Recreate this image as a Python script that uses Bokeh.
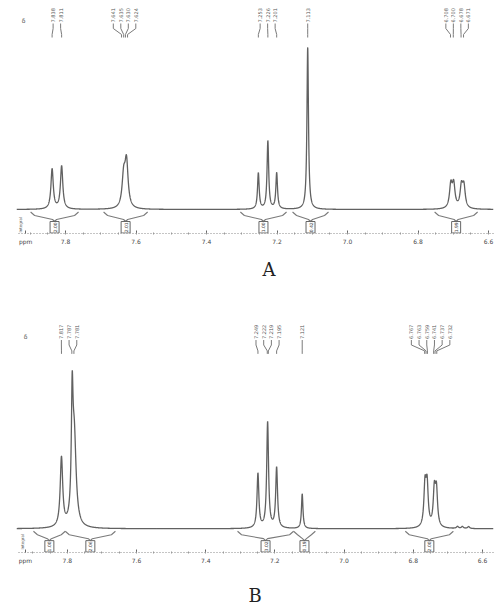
import numpy as np
from bokeh.plotting import figure
from bokeh.layouts import column
from bokeh.models import Range1d, FixedTicker, Label, Title
from bokeh.embed import file_html
from bokeh.resources import INLINE
from bokeh.core.properties import value

# ---------------- Panel A data ----------------
A_line_ppm = [7.838, 7.811, 7.635, 7.627, 7.253, 7.226, 7.201, 7.113, 6.707, 6.699, 6.677, 6.670]
A_line_height = [40, 43, 30, 45, 36, 68, 36, 162, 23, 23, 21, 21]
A_line_hwhm = [0.0040, 0.0040, 0.0054, 0.0054, 0.0028, 0.0028, 0.0028, 0.0026, 0.0045, 0.0045, 0.0045, 0.0045]
A_pick_ppm = [7.838, 7.811, 7.641, 7.635, 7.630, 7.624, 7.253, 7.226, 7.201, 7.113, 6.708, 6.700, 6.678, 6.671]
A_pick_group = [0, 0, 1, 1, 1, 1, 2, 2, 2, 3, 4, 4, 4, 4]
A_int_from = [7.899, 7.692, 7.304, 7.156, 6.753]
A_int_to = [7.763, 7.567, 7.173, 7.054, 6.631]
A_int_value = ["2.00", "2.01", "1.00", "0.42", "1.99"]
A_ticks = [7.8, 7.6, 7.4, 7.2, 7.0, 6.8, 6.6]
A_tick_labels = ["7.8", "7.6", "7.4", "7.2", "7.0", "6.8", "6.6"]

# ---------------- Panel B data ----------------
B_line_ppm = [7.817, 7.786, 7.780, 7.249, 7.221, 7.195, 7.121, 6.766, 6.760, 6.739, 6.733, 6.672, 6.658, 6.640]
B_line_height = [70, 110, 90, 55, 107, 61, 35, 41, 41, 36, 36, 2, 2, 2]
B_line_hwhm = [0.0043, 0.0029, 0.0064, 0.0032, 0.0032, 0.0032, 0.0026, 0.0038, 0.0038, 0.0038, 0.0038, 0.0035, 0.0035, 0.0035]
B_pick_ppm = [7.817, 7.787, 7.781, 7.249, 7.222, 7.219, 7.195, 7.121, 6.767, 6.763, 6.759, 6.741, 6.737, 6.732]
B_pick_group = [0, 0, 0, 1, 1, 1, 1, 2, 3, 3, 3, 3, 3, 3]
B_int_from = [7.898, 7.806, 7.308, 7.146, 6.823]
B_int_to = [7.806, 7.661, 7.146, 7.083, 6.684]
B_int_value = ["1.00", "2.06", "3.02", "0.19", "2.00"]
B_ticks = [7.8, 7.6, 7.4, 7.2, 7.0, 6.8, 6.6]
B_tick_labels = ["7.8", "7.6", "7.4", "7.2", "7.0", "6.8", "6.6"]

FONT = "DejaVu Sans"
LINE = "#616161"
THIN = "#7a7a7a"
FIG_W = 495
BORDER_L = 16
BORDER_R = 2
FRAME_W = FIG_W - BORDER_L - BORDER_R


def make_panel(lp, lh, lw, picks, groups, i_from, i_to, i_val, ticks, tick_labels,
               x_start, x_end, y_bottom, y_top, height, frame_h, label_base, spacing_px,
               ppm_tick, corner_pos):
    ppp = (x_start - x_end) / FRAME_W  # ppm per screen pixel
    p = figure(width=FIG_W, height=height, output_backend="svg", toolbar_location=None,
               x_range=Range1d(x_start, x_end), y_range=Range1d(y_bottom, y_top),
               y_axis_location=None, min_border_left=BORDER_L, min_border_right=BORDER_R,
               min_border_top=0, min_border_bottom=height - frame_h)
    p.outline_line_color = None
    p.xgrid.visible = False
    p.ygrid.visible = False
    p.background_fill_color = "white"
    p.border_fill_color = "white"

    # spectrum trace from the peak list
    xs = np.linspace(x_start, x_end, 5000)
    ys = np.zeros_like(xs)
    for c, h, w in zip(lp, lh, lw):
        ys += h / (1.0 + ((xs - c) / w) ** 2)
    p.line(xs, ys, line_color=LINE, line_width=1.3)

    # peak-pick labels and leader lines
    picks = np.array(picks)
    groups = np.array(groups)
    lab_x, lab_t, paths_x, paths_y = [], [], [], []
    for g in sorted(set(groups.tolist())):
        mem = picks[groups == g]
        n = len(mem)
        ctr = mem.mean()
        for k, pk in enumerate(mem):
            lx = ctr + ((n - 1) / 2 - k) * spacing_px * ppp
            lab_x.append(lx)
            lab_t.append(f"{pk:.3f}")
            paths_x.append([lx, lx, pk, pk])
            paths_y.append([label_base - 1, label_base - 6, label_base - 12, label_base - 15])
    p.multi_line(paths_x, paths_y, line_color=THIN, line_width=1)
    p.text(lab_x, [label_base] * len(lab_x), text=lab_t, angle=np.pi / 2,
           text_align="left", text_baseline="middle", text_color="#555",
           text_font=value(FONT), text_font_size=value("5px"))

    # integral brackets and value boxes
    bx, by, cx = [], [], []
    for a, b in zip(i_from, i_to):
        c = (a + b) / 2
        cx.append(c)
        bx.append([a, a - 4 * ppp, c + 2 * ppp, c, c - 2 * ppp, b + 4 * ppp, b])
        by.append([-2.5, -6, -10, -12, -10, -6, -2.5])
    p.multi_line(bx, by, line_color=THIN, line_width=1.1)
    p.quad(left=[c + 4.5 * ppp for c in cx], right=[c - 4.5 * ppp for c in cx],
           top=[-12] * len(cx), bottom=[-23.5] * len(cx),
           fill_color="white", line_color="#666", line_width=1)
    p.text(cx, [-17.8] * len(cx), text=i_val, angle=np.pi / 2, text_align="center",
           text_baseline="middle", text_color="#444",
           text_font=value(FONT), text_font_size=value("4.5px"))

    # axis (the leftmost tick carries the unit label "ppm")
    ax = p.xaxis[0]
    minors = [round(t, 3) for t in np.arange(min(ticks) - 0.4, max(ticks) + 0.4, 0.05)]
    ax.ticker = FixedTicker(ticks=list(ticks) + [ppm_tick], minor_ticks=minors)
    overrides = {t: s for t, s in zip(ticks, tick_labels)}
    overrides[ppm_tick] = "ppm"
    ax.major_label_overrides = overrides
    ax.axis_line_color = "#8a8a8a"
    ax.axis_line_dash = "1 2"
    ax.major_tick_line_color = "#666"
    ax.major_tick_in = 3
    ax.major_tick_out = 0
    ax.minor_tick_line_color = "#999"
    ax.minor_tick_in = 1
    ax.minor_tick_out = 1
    ax.major_label_text_font = FONT
    ax.major_label_text_font_size = "6px"
    ax.major_label_text_color = "#444"
    ax.major_label_standoff = 3

    # small texts inside the frame
    p.add_layout(Label(x=corner_pos[0], y=corner_pos[1], text="δ", text_font=FONT,
                       text_font_size="6px", text_color="#555", text_align="center",
                       text_baseline="middle"))
    p.add_layout(Label(x=corner_pos[2], y=corner_pos[3], text="Integral", text_font=FONT,
                       text_font_size="4px", text_color="#555", angle=np.pi / 2,
                       text_align="left", text_baseline="middle"))
    return p


pA = make_panel(A_line_ppm, A_line_height, A_line_hwhm, A_pick_ppm, A_pick_group,
                A_int_from, A_int_to, A_int_value, A_ticks, A_tick_labels,
                7.939, 6.586, -24, 209, 300, 233, 187, 7.5,
                7.913, (7.919, 189, 7.928, -23))
pA.add_layout(Title(text="A", align="left", offset=246, standoff=19,
                    text_font="DejaVu Serif", text_font_size="18px",
                    text_font_style="normal", text_color="#222"), "below")

pB = make_panel(B_line_ppm, B_line_height, B_line_hwhm, B_pick_ppm, B_pick_group,
                B_int_from, B_int_to, B_int_value, B_ticks, B_tick_labels,
                7.947, 6.568, -24, 231, 308, 255, 192, 7.7,
                7.921, (7.921, 195, 7.930, -21))
pB.xaxis.axis_label = "B"
pB.xaxis.axis_label_standoff = 18
pB.xaxis.axis_label_text_font = "DejaVu Serif"
pB.xaxis.axis_label_text_font_size = "18px"
pB.xaxis.axis_label_text_font_style = "normal"
pB.xaxis.axis_label_text_color = "#222"

layout = column(pA, pB, spacing=0)
open("out.html", "w").write(file_html(layout, INLINE))
